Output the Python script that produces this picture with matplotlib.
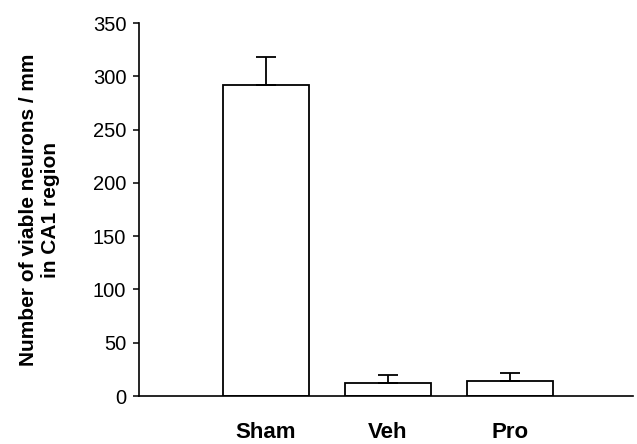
import matplotlib
matplotlib.use('Agg')
import matplotlib.pyplot as plt

groups = ['Sham', 'Veh', 'Pro']
means = [292, 12, 14]
errors = [26, 8, 8]

plt.rcParams['font.family'] = ['Liberation Sans', 'DejaVu Sans']

fig = plt.figure(figsize=(6.37, 4.44), dpi=100)
ax = fig.add_axes([0.218, 0.108, 0.776, 0.84])

x = list(range(len(groups)))
ax.bar(x, means, width=0.7, color='white', edgecolor='black', linewidth=1.3,
       yerr=[[0] * len(errors), errors],
       error_kw=dict(ecolor='black', elinewidth=1.3, capsize=7, capthick=1.3))

ax.set_xlim(-1.04, 3.01)
ax.set_ylim(0, 350)
ax.set_yticks(range(0, 351, 50))
ax.tick_params(axis='y', direction='out', length=4, width=1.1, labelsize=14.5, pad=5)
ax.set_xticks(x)
ax.set_xticklabels(groups, fontsize=16, fontweight='bold')
ax.tick_params(axis='x', length=0, pad=19)

for s in ['top', 'right']:
    ax.spines[s].set_visible(False)
for s in ['left', 'bottom']:
    ax.spines[s].set_linewidth(1.2)

ax.set_ylabel('Number of viable neurons / mm\nin CA1 region', fontsize=15,
              fontweight='bold', labelpad=24, linespacing=1.15)

fig.savefig('out.png', dpi=100, facecolor='white')
